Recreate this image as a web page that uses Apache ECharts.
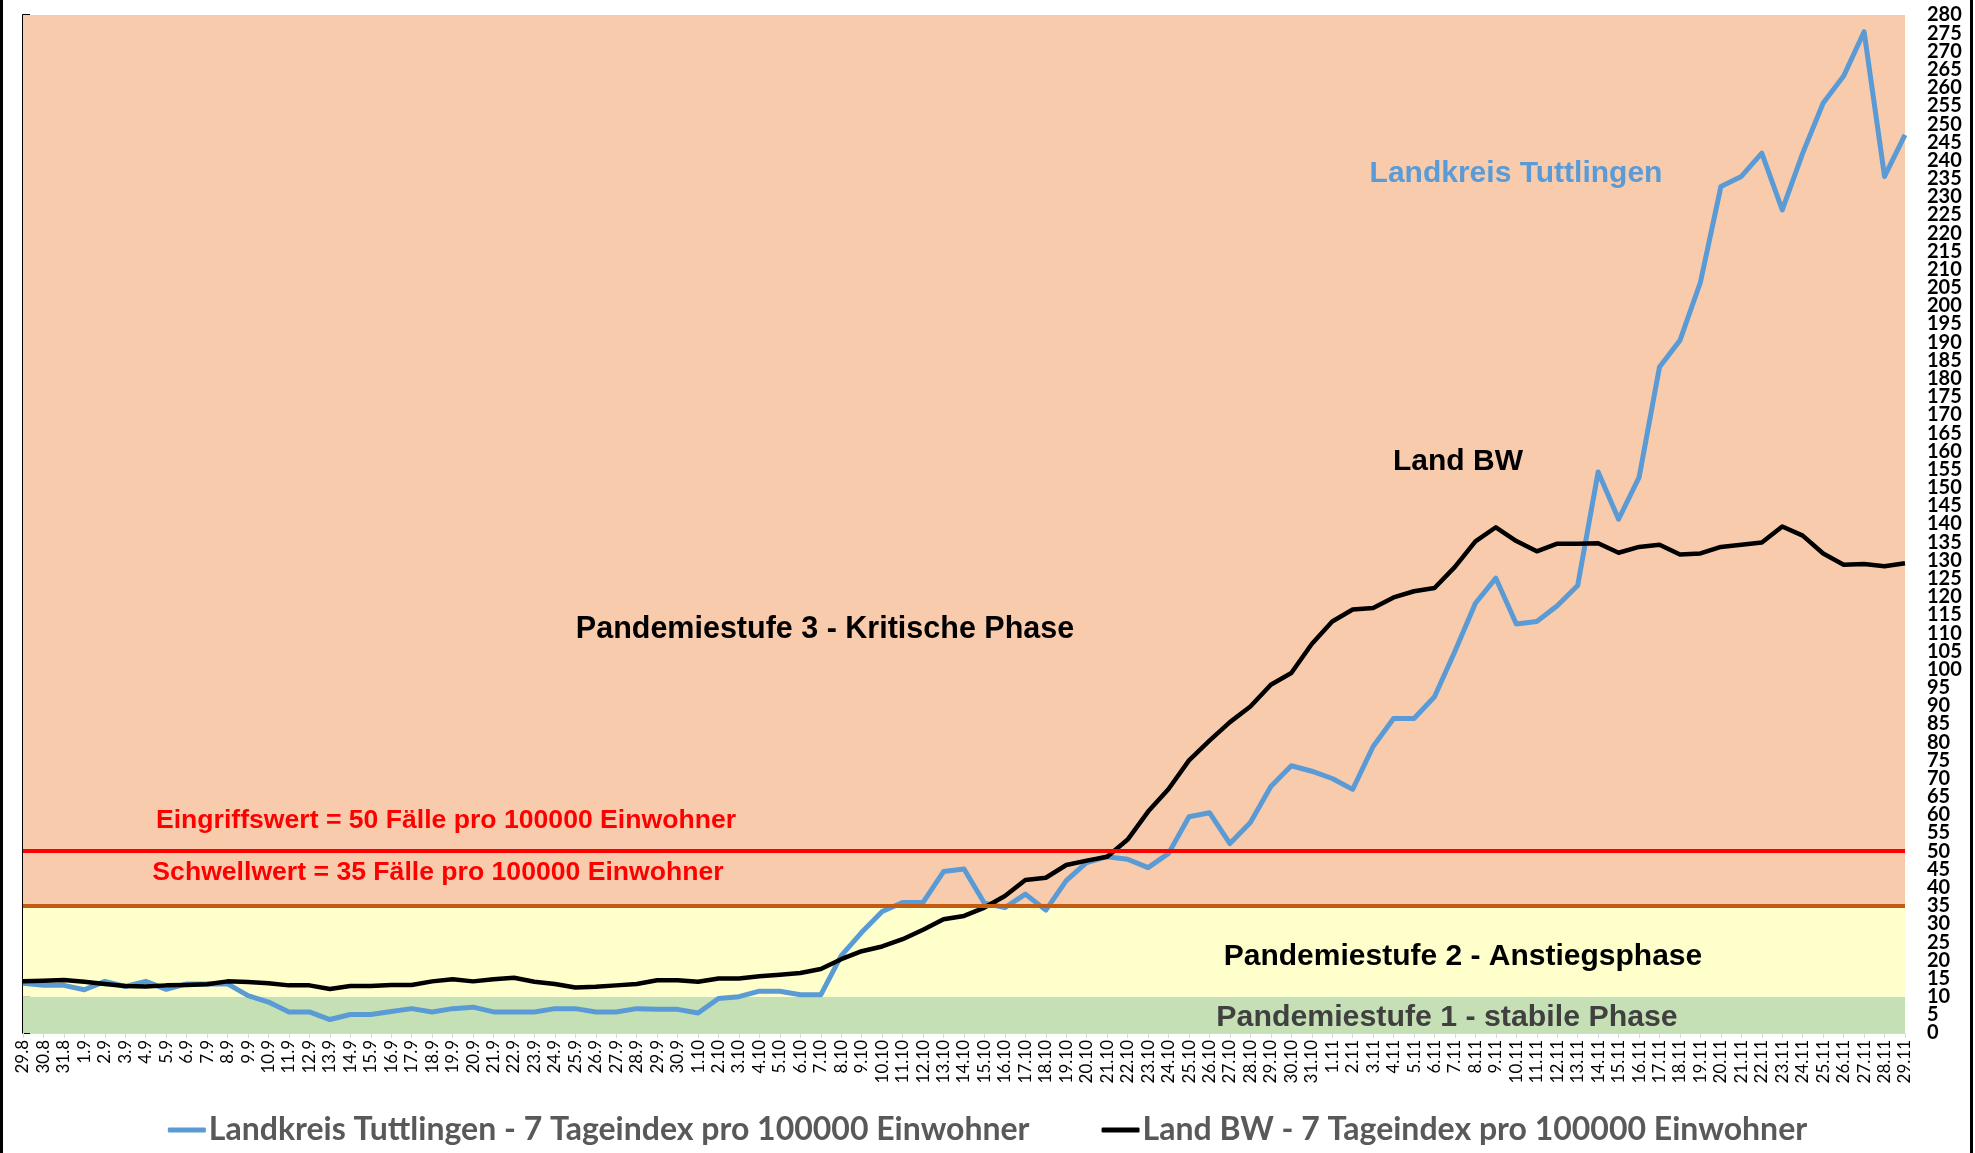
<!DOCTYPE html>
<html><head><meta charset="utf-8">
<script src="https://cdn.jsdelivr.net/npm/echarts@6/dist/echarts.min.js"></script>
<style>html,body{margin:0;padding:0;background:#fff}#c{width:1975px;height:1153px}</style>
</head><body><div id="c"></div>
<script>
const categories = ['29.8','30.8','31.8',
'1.9','2.9','3.9','4.9','5.9','6.9','7.9','8.9','9.9','10.9','11.9','12.9','13.9','14.9','15.9','16.9','17.9','18.9','19.9','20.9','21.9','22.9','23.9','24.9','25.9','26.9','27.9','28.9','29.9','30.9',
'1.10','2.10','3.10','4.10','5.10','6.10','7.10','8.10','9.10','10.10','11.10','12.10','13.10','14.10','15.10','16.10','17.10','18.10','19.10','20.10','21.10','22.10','23.10','24.10','25.10','26.10','27.10','28.10','29.10','30.10','31.10',
'1.11','2.11','3.11','4.11','5.11','6.11','7.11','8.11','9.11','10.11','11.11','12.11','13.11','14.11','15.11','16.11','17.11','18.11','19.11','20.11','21.11','22.11','23.11','24.11','25.11','26.11','27.11','28.11','29.11'];

const tuttlingen = [13.7,13.1,13.1,
11.9,14.2,12.8,14.2,12.0,13.5,13.5,13.5,10.3,8.5,5.8,5.8,3.7,5.1,5.1,5.9,6.7,5.8,6.7,7.1,5.8,5.8,5.8,6.7,6.7,5.8,5.8,6.7,6.5,6.5,
5.5,9.5,10.0,11.5,11.5,10.5,10.5,21.3,27.7,33.4,35.9,35.9,44.4,45.1,35.7,34.5,38.2,33.8,41.9,46.9,48.5,47.8,45.5,49.4,59.5,60.6,52.1,57.9,67.8,73.5,72.0,
70.0,67.0,78.8,86.5,86.5,92.5,105.0,118.2,125.1,112.5,113.2,117.5,123.1,154.3,141.3,152.8,183.2,190.5,206.5,232.8,235.6,242.0,226.4,242.0,255.8,263.2,275.4,235.6,247.0];

const landBW = [14.2,14.4,14.6,
14.1,13.5,12.9,12.8,13.1,13.2,13.4,14.2,14.0,13.7,13.1,13.1,12.1,12.9,12.9,13.2,13.2,14.2,14.8,14.2,14.8,15.2,14.1,13.5,12.5,12.7,13.1,13.5,14.5,14.5,
14.1,15.0,15.0,15.6,16.0,16.5,17.6,20.3,22.5,23.8,25.8,28.4,31.3,32.2,34.5,37.7,42.1,42.7,46.2,47.4,48.5,53.2,60.9,67.1,75.0,80.4,85.5,89.8,95.8,99.0,107.0,
113.2,116.5,116.9,119.8,121.5,122.4,128.2,135.2,139.1,135.3,132.5,134.6,134.6,134.7,132.1,133.7,134.3,131.6,131.9,133.7,134.3,134.9,139.3,136.8,131.9,128.8,129.0,128.4,129.2];

const seriesNames = ['Landkreis Tuttlingen - 7 Tageindex pro 100000 Einwohner','Land BW - 7 Tageindex pro 100000 Einwohner'];
const yMin = 0, yMax = 280, yStep = 5;
const phaseBands = [[0,10,'#C5E0B4'],[10,35,'#FFFFCC'],[35,280,'#F8CBAD']];
const thresholds = [[35,'#C55A11'],[50,'#FF0000']];

const chart = echarts.init(document.getElementById('c'), null, {renderer:'canvas'});
const fontA = '"Liberation Sans", Arial, sans-serif';
const yLabelStyle = {fontFamily:'Lato, "Open Sans", sans-serif', fontWeight:'bold', fontSize:20, color:'#000', margin:22, align:'left'};
function txt(text, x, y, size, color){
  return {type:'text', x:x, y:y, z:50, silent:true,
    style:{text:text, fill:color, font:'bold '+size+'px '+fontA, textAlign:'center', textVerticalAlign:'middle'}};
}
chart.setOption({
  animation:false,
  backgroundColor:'#ffffff',
  grid:{left:23, right:70, top:15, bottom:120, containLabel:false},
  legend:{
    data:seriesNames, bottom:2, left:'center', itemWidth:38, itemHeight:5, itemGap:72, icon:'roundRect',
    textStyle:{fontFamily:'Lato, "Open Sans", sans-serif', fontWeight:'bold', fontSize:32, color:'#595959', padding:[0,0,0,-2]}
  },
  xAxis:{
    type:'category', data:categories, boundaryGap:false,
    axisLine:{show:true, lineStyle:{color:'#D9D9D9', width:1}},
    axisTick:{show:true, alignWithLabel:true, interval:0, length:5, lineStyle:{color:'#D9D9D9'}},
    axisLabel:{interval:0, rotate:90, fontFamily:'Lato, "Open Sans", sans-serif', fontSize:17, color:'#000', margin:7},
    splitLine:{show:false}
  },
  yAxis:[
    {type:'value', position:'left', min:yMin, max:yMax, interval:yStep,
     axisLine:{show:true, lineStyle:{color:'#000', width:2}},
     axisTick:{show:true, inside:true, length:7, lineStyle:{color:'#000', width:2}},
     axisLabel:{show:false}, splitLine:{show:false}},
    {type:'value', position:'right', min:yMin, max:yMax, interval:yStep,
     axisLine:{show:false}, axisTick:{show:false},
     axisLabel:Object.assign({show:true}, yLabelStyle),
     splitLine:{show:false}},
    {type:'value', position:'right', min:yMin, max:yMax, interval:yStep,
     axisLine:{show:false}, axisTick:{show:false},
     axisLabel:Object.assign({show:true, showMinLabel:true, showMaxLabel:true,
       formatter: v => (v === yMin || v === yMax) ? String(v) : ''}, yLabelStyle),
     splitLine:{show:false}}
  ],
  series:[
    {name:'bands', type:'line', data:[], z:1, silent:true,
     markArea:{silent:true, data: phaseBands.map(b => [{yAxis:b[0], itemStyle:{color:b[2]}},{yAxis:b[1]}])}},
    {name:'thresholds', type:'line', data:[], z:2, silent:true,
     markLine:{silent:true, symbol:'none', label:{show:false},
       data: thresholds.map(t => ({yAxis:t[0], lineStyle:{color:t[1], width:4, type:'solid'}}))}},
    {name:seriesNames[0], type:'line', data:tuttlingen, z:3, showSymbol:false, symbol:'none',
     lineStyle:{color:'#5B9BD5', width:5, join:'round'}, itemStyle:{color:'#5B9BD5'}},
    {name:seriesNames[1], type:'line', data:landBW, z:4, showSymbol:false, symbol:'none',
     lineStyle:{color:'#000000', width:4.5, join:'round'}, itemStyle:{color:'#000000'}}
  ],
  graphic:[
    {type:'rect', shape:{x:0, y:0, width:3, height:1153}, style:{fill:'#000'}, z:60, silent:true},
    {type:'rect', shape:{x:1970, y:0, width:3, height:1153}, style:{fill:'#000'}, z:60, silent:true},
    txt('Landkreis Tuttlingen', 1516, 174, 30, '#5B9BD5'),
    txt('Land BW', 1458, 462, 30, '#000000'),
    txt('Pandemiestufe 3 - Kritische Phase', 825, 630, 30.5, '#000000'),
    txt('Eingriffswert = 50 Fälle pro 100000 Einwohner', 446, 821, 26.6, '#FF0000'),
    txt('Schwellwert = 35 Fälle pro 100000 Einwohner', 438, 873, 26.6, '#FF0000'),
    txt('Pandemiestufe 2 - Anstiegsphase', 1463, 957, 30, '#000000'),
    txt('Pandemiestufe 1 - stabile Phase', 1447, 1018, 30.3, '#404040')
  ]
});
</script></body></html>
